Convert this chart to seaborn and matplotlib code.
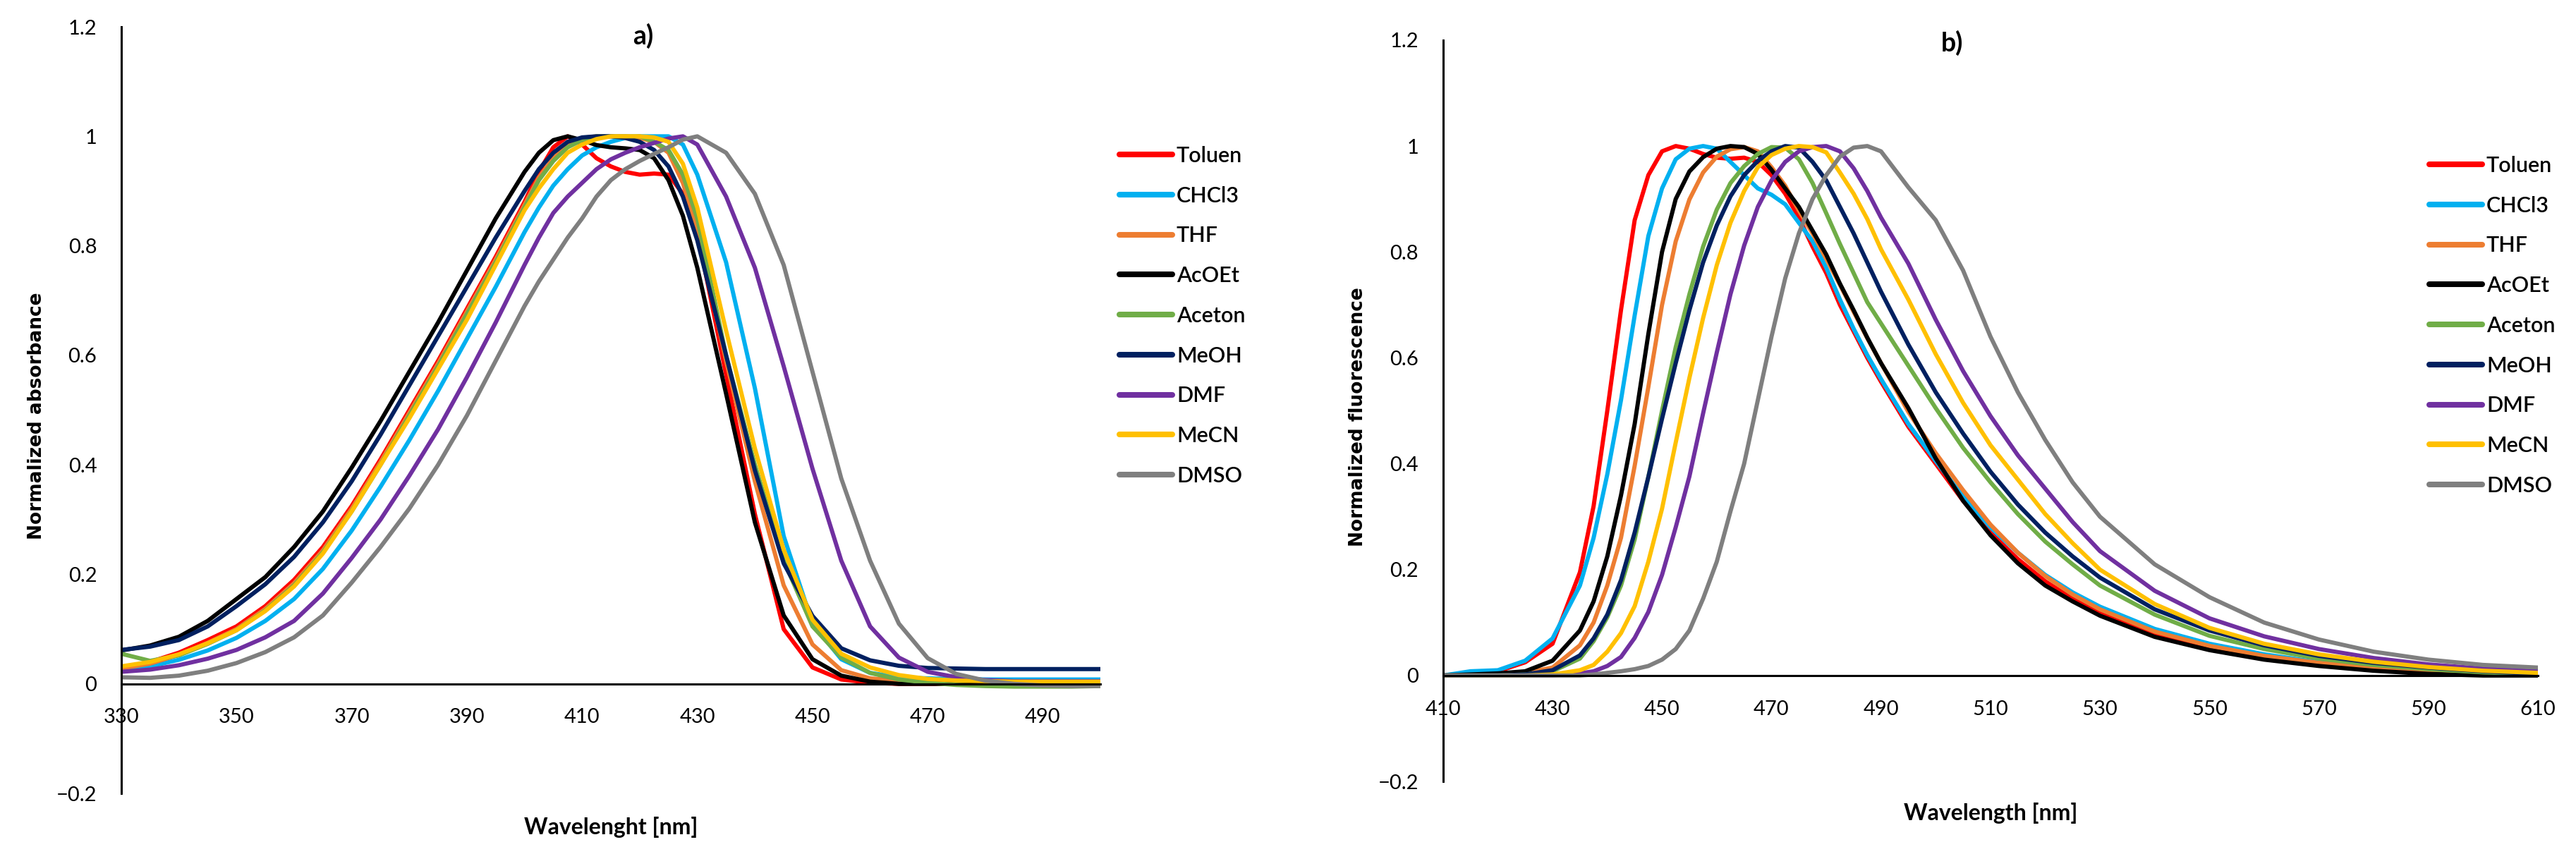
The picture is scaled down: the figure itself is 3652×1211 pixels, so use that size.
import matplotlib
matplotlib.use("Agg")
import matplotlib.pyplot as plt
import pandas as pd
import seaborn as sns

# ── Series / colours (Excel default palette) ─────────────────────────────────
SOLVENTS = ["Toluen", "CHCl3", "THF", "AcOEt", "Aceton", "MeOH", "DMF", "MeCN", "DMSO"]
COLORS = ["#FF0000", "#00B0F0", "#ED7D31", "#000000", "#70AD47",
          "#002060", "#7030A0", "#FFC000", "#7F7F7F"]

Y_TICKS = [-0.2, 0, 0.2, 0.4, 0.6, 0.8, 1.0, 1.2]
Y_TICK_LABELS = ["\u22120.2", "0", "0.2", "0.4", "0.6", "0.8", "1", "1.2"]
X_TICKS_ABS = [330, 350, 370, 390, 410, 430, 450, 470, 490]
X_TICKS_FLU = [410, 430, 450, 470, 490, 510, 530, 550, 570, 590, 610]

# ── a) normalized absorbance ─────────────────────────────────────────────────
WL_ABS = [330, 335, 340, 345, 350, 355, 360, 365, 370, 375, 380, 385, 390, 395, 400,
          402.5, 405, 407.5, 410, 412.5, 415, 417.5, 420, 422.5, 425, 427.5, 430,
          435, 440, 445, 450, 455, 460, 465, 470, 475, 480, 485, 490, 495, 500]

ABS_TOLUEN = [0.030, 0.040, 0.057, 0.080, 0.105, 0.142, 0.190, 0.250, 0.325, 0.410, 0.500, 0.590, 0.685, 0.780, 0.880,
              0.935, 0.980, 1.000, 0.985, 0.960, 0.945, 0.935, 0.930, 0.932, 0.930, 0.895, 0.825,
              0.565, 0.310, 0.100, 0.030, 0.008, 0.002, 0.0, 0.0, 0.0, 0.0, 0.0, 0.0, 0.0, 0.0]
ABS_CHCL3 = [0.025, 0.032, 0.044, 0.061, 0.084, 0.115, 0.155, 0.210, 0.280, 0.360, 0.445, 0.535, 0.630, 0.725, 0.825,
             0.870, 0.910, 0.940, 0.965, 0.980, 0.990, 0.997, 1.000, 1.000, 1.000, 0.985, 0.930,
             0.770, 0.540, 0.270, 0.110, 0.045, 0.020, 0.012, 0.010, 0.009, 0.008, 0.008, 0.008, 0.008, 0.008]
ABS_THF = [0.028, 0.037, 0.053, 0.075, 0.100, 0.137, 0.184, 0.244, 0.320, 0.405, 0.495, 0.585, 0.680, 0.775, 0.875,
           0.925, 0.960, 0.985, 0.997, 1.000, 1.000, 1.000, 0.997, 0.990, 0.970, 0.915, 0.830,
           0.590, 0.370, 0.180, 0.072, 0.025, 0.010, 0.006, 0.005, 0.005, 0.004, 0.004, 0.004, 0.004, 0.004]
ABS_ACOET = [0.061, 0.070, 0.086, 0.115, 0.155, 0.195, 0.250, 0.315, 0.395, 0.480, 0.570, 0.660, 0.755, 0.850, 0.935,
             0.970, 0.993, 1.000, 0.993, 0.984, 0.980, 0.978, 0.975, 0.960, 0.920, 0.855, 0.760,
             0.530, 0.295, 0.125, 0.045, 0.015, 0.004, 0.0, 0.0, 0.0, 0.0, 0.0, 0.0, 0.0, 0.0]
ABS_ACETON = [0.055, 0.042, 0.052, 0.073, 0.098, 0.134, 0.180, 0.240, 0.315, 0.400, 0.490, 0.580, 0.675, 0.770, 0.870,
              0.920, 0.955, 0.980, 0.993, 1.000, 1.000, 1.000, 1.000, 0.990, 0.975, 0.930, 0.850,
              0.600, 0.400, 0.225, 0.105, 0.048, 0.020, 0.008, 0.002, -0.002, -0.004, -0.005, -0.005, -0.005, -0.004]
ABS_MEOH = [0.062, 0.068, 0.080, 0.105, 0.142, 0.182, 0.232, 0.295, 0.370, 0.455, 0.545, 0.635, 0.725, 0.815, 0.900,
            0.940, 0.970, 0.990, 0.998, 1.000, 1.000, 0.997, 0.990, 0.975, 0.945, 0.890, 0.810,
            0.600, 0.390, 0.220, 0.124, 0.065, 0.043, 0.033, 0.029, 0.028, 0.027, 0.027, 0.027, 0.027, 0.027]
ABS_DMF = [0.022, 0.026, 0.034, 0.046, 0.062, 0.085, 0.115, 0.165, 0.230, 0.300, 0.380, 0.465, 0.560, 0.660, 0.765,
           0.815, 0.860, 0.890, 0.915, 0.940, 0.958, 0.970, 0.980, 0.988, 0.996, 1.000, 0.985,
           0.890, 0.760, 0.580, 0.393, 0.225, 0.105, 0.048, 0.022, 0.012, 0.007, 0.005, 0.005, 0.005, 0.005]
ABS_MECN = [0.032, 0.040, 0.054, 0.074, 0.098, 0.133, 0.178, 0.238, 0.315, 0.400, 0.485, 0.575, 0.665, 0.765, 0.865,
            0.905, 0.940, 0.970, 0.985, 0.995, 1.000, 1.000, 1.000, 0.998, 0.990, 0.950, 0.870,
            0.645, 0.430, 0.245, 0.117, 0.055, 0.030, 0.016, 0.009, 0.006, 0.005, 0.004, 0.004, 0.004, 0.004]
ABS_DMSO = [0.012, 0.011, 0.015, 0.024, 0.038, 0.058, 0.085, 0.125, 0.185, 0.250, 0.320, 0.400, 0.490, 0.590, 0.690,
            0.735, 0.775, 0.815, 0.850, 0.890, 0.920, 0.940, 0.955, 0.968, 0.980, 0.994, 1.000,
            0.970, 0.895, 0.765, 0.570, 0.375, 0.225, 0.110, 0.047, 0.018, 0.006, 0.0, -0.003, -0.004, -0.004]

# ── b) normalized fluorescence ───────────────────────────────────────────────
WL_FLU = [410, 415, 420, 425, 430, 435,
          437.5, 440, 442.5, 445, 447.5, 450, 452.5, 455, 457.5, 460, 462.5, 465, 467.5, 470,
          472.5, 475, 477.5, 480, 482.5, 485, 487.5, 490,
          495, 500, 505, 510, 515, 520, 525, 530,
          540, 550, 560, 570, 580, 590, 600, 610]

FLU_TOLUEN = [0.0, 0.005, 0.008, 0.025, 0.060, 0.195,
              0.320, 0.500, 0.690, 0.860, 0.945, 0.990, 1.000, 0.995, 0.985, 0.978, 0.976, 0.978, 0.970, 0.945,
              0.910, 0.865, 0.810, 0.760, 0.700, 0.650, 0.600, 0.555,
              0.470, 0.400, 0.330, 0.270, 0.220, 0.178, 0.145, 0.118,
              0.078, 0.052, 0.034, 0.021, 0.012, 0.006, 0.003, 0.001]
FLU_CHCL3 = [0.0, 0.008, 0.010, 0.028, 0.070, 0.170,
             0.260, 0.380, 0.520, 0.680, 0.830, 0.920, 0.975, 0.995, 1.000, 0.995, 0.970, 0.945, 0.920, 0.908,
             0.890, 0.855, 0.820, 0.770, 0.710, 0.655, 0.605, 0.560,
             0.475, 0.405, 0.338, 0.280, 0.232, 0.190, 0.157, 0.130,
             0.088, 0.060, 0.040, 0.025, 0.015, 0.009, 0.005, 0.002]
FLU_THF = [0.0, 0.0, 0.002, 0.005, 0.015, 0.057,
           0.100, 0.170, 0.260, 0.396, 0.545, 0.700, 0.820, 0.899, 0.950, 0.980, 0.994, 0.998, 0.990, 0.960,
           0.925, 0.878, 0.835, 0.787, 0.738, 0.687, 0.637, 0.590,
           0.498, 0.420, 0.350, 0.285, 0.232, 0.188, 0.153, 0.125,
           0.083, 0.056, 0.037, 0.024, 0.015, 0.009, 0.005, 0.002]
FLU_ACOET = [0.0, 0.002, 0.004, 0.008, 0.028, 0.085,
             0.140, 0.225, 0.340, 0.475, 0.645, 0.800, 0.900, 0.952, 0.979, 0.995, 1.000, 0.998, 0.985, 0.955,
             0.920, 0.885, 0.840, 0.795, 0.740, 0.690, 0.638, 0.590,
             0.505, 0.410, 0.330, 0.265, 0.212, 0.170, 0.140, 0.113,
             0.073, 0.048, 0.030, 0.018, 0.009, 0.003, 0.0, 0.0]
FLU_ACETON = [0.0, 0.0, 0.0, 0.002, 0.008, 0.032,
              0.065, 0.110, 0.170, 0.257, 0.375, 0.500, 0.620, 0.720, 0.810, 0.880, 0.930, 0.962, 0.985, 0.998,
              0.997, 0.975, 0.930, 0.873, 0.815, 0.760, 0.705, 0.665,
              0.585, 0.505, 0.430, 0.365, 0.305, 0.253, 0.210, 0.170,
              0.115, 0.075, 0.050, 0.032, 0.020, 0.012, 0.006, 0.002]
FLU_MEOH = [0.0, 0.0, 0.0, 0.002, 0.010, 0.038,
            0.070, 0.115, 0.180, 0.270, 0.375, 0.485, 0.590, 0.690, 0.780, 0.850, 0.905, 0.945, 0.972, 0.990,
            1.000, 0.997, 0.970, 0.935, 0.885, 0.835, 0.780, 0.725,
            0.625, 0.535, 0.457, 0.385, 0.323, 0.270, 0.225, 0.185,
            0.125, 0.085, 0.057, 0.037, 0.024, 0.015, 0.008, 0.003]
FLU_DMF = [0.0, 0.0, 0.0, 0.0, 0.0, 0.004,
           0.008, 0.018, 0.035, 0.071, 0.120, 0.190, 0.280, 0.376, 0.495, 0.610, 0.720, 0.812, 0.885, 0.935,
           0.970, 0.990, 0.998, 1.000, 0.990, 0.958, 0.915, 0.865,
           0.778, 0.672, 0.575, 0.490, 0.416, 0.353, 0.290, 0.235,
           0.160, 0.108, 0.074, 0.050, 0.033, 0.021, 0.013, 0.008]
FLU_MECN = [0.0, 0.0, 0.0, 0.0, 0.002, 0.010,
            0.020, 0.045, 0.080, 0.131, 0.215, 0.315, 0.440, 0.562, 0.675, 0.775, 0.855, 0.915, 0.960, 0.983,
            0.995, 1.000, 0.998, 0.988, 0.950, 0.910, 0.862, 0.805,
            0.710, 0.607, 0.515, 0.435, 0.370, 0.305, 0.250, 0.200,
            0.135, 0.090, 0.060, 0.040, 0.026, 0.016, 0.009, 0.005]
FLU_DMSO = [0.0, 0.0, 0.0, 0.0, 0.0, 0.0,
            0.002, 0.005, 0.008, 0.012, 0.018, 0.030, 0.050, 0.085, 0.145, 0.215, 0.310, 0.400, 0.520, 0.640,
            0.750, 0.835, 0.900, 0.945, 0.980, 0.997, 1.000, 0.990,
            0.922, 0.860, 0.765, 0.640, 0.535, 0.445, 0.365, 0.300,
            0.210, 0.148, 0.100, 0.068, 0.045, 0.030, 0.020, 0.015]

ABS_SERIES = [ABS_TOLUEN, ABS_CHCL3, ABS_THF, ABS_ACOET, ABS_ACETON,
              ABS_MEOH, ABS_DMF, ABS_MECN, ABS_DMSO]
FLU_SERIES = [FLU_TOLUEN, FLU_CHCL3, FLU_THF, FLU_ACOET, FLU_ACETON,
              FLU_MEOH, FLU_DMF, FLU_MECN, FLU_DMSO]


def long_frame(wl, series):
    parts = []
    for name, vals in zip(SOLVENTS, series):
        assert len(vals) == len(wl), name
        parts.append(pd.DataFrame({"wl": wl, "val": vals, "solvent": name}))
    return pd.concat(parts, ignore_index=True)


df_abs = long_frame(WL_ABS, ABS_SERIES)
df_flu = long_frame(WL_FLU, FLU_SERIES)

# ── Style ────────────────────────────────────────────────────────────────────
sns.set_style("white")
plt.rcParams["font.family"] = ["Lato", "DejaVu Sans"]
plt.rcParams["text.color"] = "black"
plt.rcParams["axes.labelcolor"] = "black"
plt.rcParams["xtick.color"] = "black"
plt.rcParams["ytick.color"] = "black"

palette = dict(zip(SOLVENTS, COLORS))

fig = plt.figure(figsize=(36.52, 12.11), dpi=100)
fig.patch.set_facecolor("white")
ax_a = fig.add_axes([0.0471, 0.0710, 0.3801, 0.8976])
ax_b = fig.add_axes([0.5602, 0.0850, 0.4250, 0.8680])


def draw_panel(ax, df, xlim, xticks, xlabel, ylabel, title, title_xy,
               ylab_x, xlab_y, legend_xy):
    sns.lineplot(data=df, x="wl", y="val", hue="solvent", hue_order=SOLVENTS,
                 palette=palette, estimator=None, linewidth=4.3, ax=ax)
    ax.set_xlim(*xlim)
    ax.set_ylim(-0.2, 1.2)
    ax.set_xticks(xticks)
    ax.set_yticks(Y_TICKS)
    ax.set_yticklabels(Y_TICK_LABELS)

    for side in ("top", "right"):
        ax.spines[side].set_visible(False)
    ax.spines["bottom"].set_position(("data", 0))
    for side in ("left", "bottom"):
        ax.spines[side].set_linewidth(2.2)
        ax.spines[side].set_color("black")
    ax.tick_params(axis="both", direction="out", length=11, width=2.2,
                   labelsize=21, colors="black")
    ax.tick_params(axis="x", pad=14)
    ax.tick_params(axis="y", pad=14)

    ax.set_xlabel(xlabel, fontsize=23, fontweight="bold")
    ax.xaxis.set_label_coords(0.5, xlab_y)
    ax.xaxis.label.set_verticalalignment("center")
    ax.set_ylabel(ylabel, fontsize=19, fontweight="bold",
                  family=["DejaVu Sans"])
    ax.yaxis.set_label_coords(ylab_x, 0.492)
    ax.yaxis.label.set_verticalalignment("center")

    ax.text(title_xy[0], title_xy[1], title, transform=ax.transAxes,
            ha="center", va="center", fontsize=27, fontweight="bold")

    handles, labels = ax.get_legend_handles_labels()
    leg = ax.legend(handles, labels, loc="upper left",
                    bbox_to_anchor=legend_xy, bbox_transform=fig.transFigure,
                    frameon=False, fontsize=22, handlelength=2.45,
                    handletextpad=0.2, labelspacing=0.94,
                    borderpad=0, borderaxespad=0)
    for line in leg.get_lines():
        line.set_linewidth(5.8)
    for txt in leg.get_texts():
        txt.set_fontweight("semibold")


draw_panel(ax_a, df_abs, (330, 500), X_TICKS_ABS,
           "Wavelenght [nm]", "Normalized absorbance", "a)", (0.533, 0.988),
           -0.0865, -0.044, (1587 / 3652, 1 - 207 / 1211))
draw_panel(ax_b, df_flu, (410, 610), X_TICKS_FLU,
           "Wavelength [nm]", "Normalized fluorescence", "b)", (0.4646, 0.996),
           -0.078, -0.043, (3444 / 3652, 1 - 221 / 1211))

fig.savefig("out.png", dpi=100, facecolor="white")
